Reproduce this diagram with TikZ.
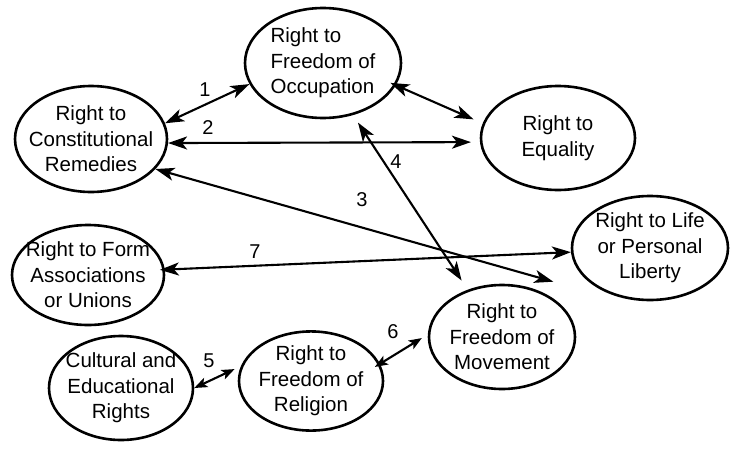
\documentclass[tikz,border=0pt]{standalone}
\usepackage{fontspec}
\setmainfont{Liberation Sans}
\usetikzlibrary{shapes.geometric}
\usetikzlibrary{arrows.meta}

\begin{document}
\begin{tikzpicture}[x=1pt, y=-1pt, >={Stealth[length=19pt, width=13pt, inset=5pt]}]
    \tikzstyle{oval} = [ellipse, draw, line width=2.6pt, inner xsep=-18pt, inner ysep=0pt, align=center, font=\fontsize{20.5}{25.5}\selectfont]
    \tikzstyle{num} = [inner sep=1pt, font=\fontsize{20}{22}\selectfont]
    \tikzstyle{link} = [<->, line width=2.1pt]
    \tikzstyle{short link} = [<->, line width=2.1pt, >={Stealth[length=13pt, width=10pt, inset=3pt]}]

    \useasboundingbox (0,0) rectangle (736,450);

    \node [oval, minimum width=152pt, minimum height=106pt] (remedies) at (91,139) {Right to\\Constitutional\\Remedies};
    \node [oval, align=left, minimum width=156pt, minimum height=110pt] (occupation) at (323,63) {Right to\\Freedom of\\Occupation};
    \node [oval, minimum width=154pt, minimum height=104pt] (equality) at (558,138) {Right to\\Equality};
    \node [oval, minimum width=156pt, minimum height=104pt] (life) at (650,248) {Right to Life\\or Personal\\Liberty};
    \node [oval, minimum width=152pt, minimum height=100pt] (unions) at (88,275) {Right to Form\\Associations\\or Unions};
    \node [oval, minimum width=144pt, minimum height=104pt] (cultural) at (121,388) {Cultural and\\Educational\\Rights};
    \node [oval, minimum width=144pt, minimum height=98pt] (religion) at (311,381) {Right to\\Freedom of\\Religion};
    \node [oval, minimum width=146pt, minimum height=104pt] (movement) at (502,337) {Right to\\Freedom of\\Movement};

    \draw [link] (remedies.12) -- (occupation.196);
    \draw [link, shorten >=9pt] (remedies.-3) -- (equality.183);
    \draw [link, shorten <=-6pt, shorten >=10pt] (occupation.-17) -- (equality.169);
    \draw [link] (remedies.-25) -- ([xshift=10pt, yshift=11pt]movement.47);
    \draw [link, shorten <=9pt, shorten >=11pt] (occupation.-60) -- (movement.126);
    \draw [link, shorten <=-5pt] (unions.4) -- (life.183);
    \draw [short link, shorten >=7pt] (cultural.east) -- (religion.168);
    \draw [short link, shorten <=-6pt, shorten >=7pt] (religion.14) -- (movement.178);

    \node [num] (n1) at (205,90) {1};
    \node [num] (n2) at (208,128) {2};
    \node [num] (n3) at (362,200) {3};
    \node [num] (n4) at (396,162) {4};
    \node [num] (n5) at (209,361) {5};
    \node [num] (n6) at (393,332) {6};
    \node [num] (n7) at (255,252) {7};
\end{tikzpicture}
\end{document}
